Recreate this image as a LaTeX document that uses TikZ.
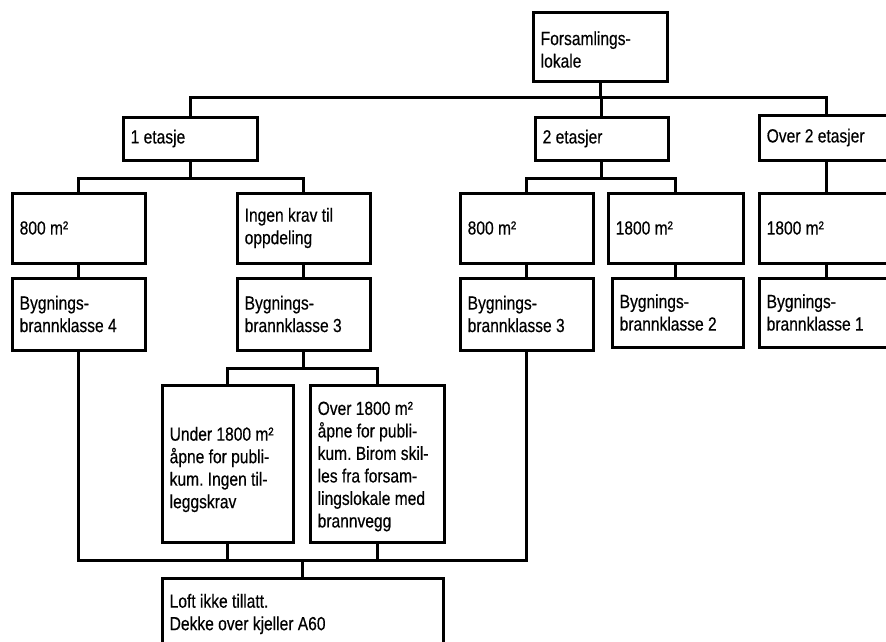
\documentclass[tikz,border=0pt]{standalone}
\usepackage{fontspec}
\setmainfont{Liberation Sans}[FakeStretch=0.82,FakeBold=0.4]
\begin{document}
\begin{tikzpicture}[x=1pt,y=-1pt,
  box/.style={draw, line width=3pt, rectangle, inner sep=0pt},
  lbl/.style={anchor=west, xshift=9pt, align=left, inner sep=0pt,
    font=\fontsize{19}{22.5}\selectfont\frenchspacing},
  wire/.style={line width=3pt, line join=miter, line cap=rect}]
\useasboundingbox (0,0) rectangle (886,641);
\clip (0,0) rectangle (886,641);

% root
\node[box, minimum width=134pt, minimum height=69pt,
  label={[lbl, yshift=-3pt]west:{Forsamlings-\\lokale}}] (top) at (600,46.5) {};

% number of storeys
\node[box, minimum width=134pt, minimum height=43pt,
  label={[lbl]west:{1 etasje}}] (e1) at (190,138.5) {};
\node[box, minimum width=133pt, minimum height=43pt,
  label={[lbl]west:{2 etasjer}}] (e2) at (601.5,138.5) {};
\node[box, minimum width=134pt, minimum height=45pt,
  label={[lbl]west:{Over 2 etasjer}}] (e3) at (826,137.5) {};

% area limits
\node[box, minimum width=133pt, minimum height=70pt,
  label={[lbl]west:{800 m²}}] (a1) at (78.5,228) {};
\node[box, minimum width=133pt, minimum height=70pt,
  label={[lbl]west:{Ingen krav til\\oppdeling}}] (a2) at (303.5,228) {};
\node[box, minimum width=133pt, minimum height=70pt,
  label={[lbl]west:{800 m²}}] (b1) at (526.5,228) {};
\node[box, minimum width=135pt, minimum height=70pt,
  label={[lbl]west:{1800 m²}}] (b2) at (675.5,228) {};
\node[box, minimum width=134pt, minimum height=70pt,
  label={[lbl]west:{1800 m²}}] (c1) at (826,228) {};

% fire classes
\node[box, minimum width=133pt, minimum height=72pt,
  label={[lbl]west:{Bygnings-\\brannklasse 4}}] (k4) at (78.5,314) {};
\node[box, minimum width=133pt, minimum height=72pt,
  label={[lbl]west:{Bygnings-\\brannklasse 3}}] (k3a) at (303.5,314) {};
\node[box, minimum width=133pt, minimum height=72pt,
  label={[lbl]west:{Bygnings-\\brannklasse 3}}] (k3b) at (526.5,314) {};
\node[box, minimum width=131pt, minimum height=69pt,
  label={[lbl]west:{Bygnings-\\brannklasse 2}}] (k2) at (677.5,312.5) {};
\node[box, minimum width=134pt, minimum height=69pt,
  label={[lbl]west:{Bygnings-\\brannklasse 1}}] (k1) at (826,312.5) {};

% sub-cases of class 3
\node[box, minimum width=131pt, minimum height=157pt,
  label={[lbl, yshift=-6pt]west:{Under 1800 m²\\åpne for publi-\\kum. Ingen til-\\leggskrav}}] (u) at (227.5,463.5) {};
\node[box, minimum width=134pt, minimum height=157pt,
  label={[lbl, yshift=-3pt]west:{Over 1800 m²\\åpne for publi-\\kum. Birom skil-\\les fra forsam-\\lingslokale med\\brannvegg}}] (o) at (377,463.5) {};

% common requirement
\node[box, minimum width=281pt, minimum height=72pt,
  label={[lbl]west:{Loft ikke tillatt.\\Dekke over kjeller A60}}] (req) at (302.5,614) {};

% bus levels
\coordinate (busA) at (0,97);
\coordinate (busB) at (0,178);
\coordinate (busC) at (0,368);
\coordinate (busD) at (0,560);

% root -> storeys
\draw[wire] (top.south) -- (top.south |- busA);
\draw[wire] (e1.north) -- (e1.north |- busA) -- (e3.north |- busA) -- (e3.north);
\draw[wire] (e2.north) -- (e2.north |- busA);

% 1 etasje -> areas
\draw[wire] (e1.south) -- (e1.south |- busB);
\draw[wire] (a1.north) -- (a1.north |- busB) -- (a2.north |- busB) -- (a2.north);

% 2 etasjer -> areas
\draw[wire] (e2.south) -- (e2.south |- busB);
\draw[wire] (b1.north) -- (b1.north |- busB) -- (b2.north |- busB) -- (b2.north);

% over 2 etasjer -> area
\draw[wire] (e3.south) -- (c1.north);

% areas -> fire classes
\draw[wire] (a1.south) -- (k4.north);
\draw[wire] (a2.south) -- (k3a.north);
\draw[wire] (b1.south) -- (k3b.north);
\draw[wire] (b2.south) -- (b2.south |- k2.north);
\draw[wire] (c1.south) -- (k1.north);

% class 3 -> sub-cases
\draw[wire] (k3a.south) -- (k3a.south |- busC);
\draw[wire] (u.north) -- (u.north |- busC) -- (o.north |- busC) -- (o.north);

% collection into the common requirement
\draw[wire] (k4.south) -- (k4.south |- busD) -- (k3b.south |- busD) -- (k3b.south);
\draw[wire] (u.south) -- (u.south |- busD);
\draw[wire] (o.south) -- (o.south |- busD);
\draw[wire] (req.north |- busD) -- (req.north);
\end{tikzpicture}
\end{document}
